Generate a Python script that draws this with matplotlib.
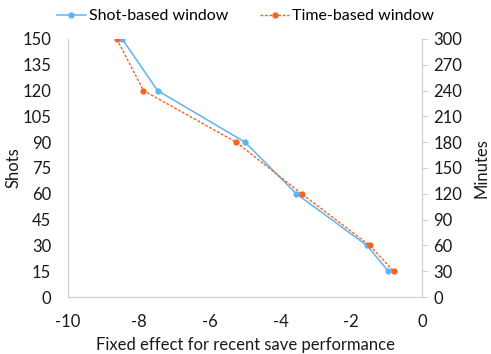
import matplotlib.pyplot as plt

shot_windows = [150, 120, 90, 60, 30, 15]
shot_effects = [-8.47, -7.47, -5.0, -3.55, -1.56, -0.95]
time_windows = [300, 240, 180, 120, 60, 30]
time_effects = [-8.62, -7.87, -5.25, -3.4, -1.48, -0.8]

plt.rcParams['font.family'] = ['Lato', 'DejaVu Sans']
plt.rcParams['font.size'] = 12
plt.rcParams['axes.unicode_minus'] = False

blue = '#5DB4F4'
orange = '#F8621E'
grey = '#D0D0D0'
txt = '#1a1a1a'

fig = plt.figure(figsize=(4.91, 3.54), dpi=100)
ax = fig.add_axes([0.1385, 0.161, 0.721, 0.729])
ax2 = ax.twinx()

l1, = ax.plot(shot_effects, shot_windows, color=blue, marker='o', markersize=3.5,
              linewidth=1.1, label='Shot-based window')
l2, = ax2.plot(time_effects, time_windows, color=orange, marker='o', markersize=3.5,
               linewidth=1.0, linestyle=(0, (2, 1.2)), label='Time-based window')

ax.set_xlim(-10, 0)
ax.set_ylim(0, 150)
ax2.set_ylim(0, 300)
ax.set_xticks(range(-10, 1, 2))
ax.set_yticks(range(0, 151, 15))
ax2.set_yticks(range(0, 301, 30))

for a in (ax, ax2):
    a.spines['top'].set_visible(False)
    for side in ('left', 'right', 'bottom'):
        a.spines[side].set_color(grey)
    a.tick_params(colors=txt, length=0)
ax.tick_params(axis='x', pad=12)
ax.tick_params(axis='y', pad=12)
ax2.tick_params(axis='y', length=4, color=grey, pad=4)

ax.set_xlabel('Fixed effect for recent save performance', color=txt, labelpad=5)
ax.set_ylabel('Shots', color=txt, labelpad=1)
ax2.set_ylabel('Minutes', color=txt, labelpad=8)

fig.legend(handles=[l1, l2], loc='upper center', bbox_to_anchor=(0.5, 1.015), ncol=2,
           frameon=False, fontsize=11.5, handlelength=1.8, columnspacing=2.0,
           handletextpad=0.2)

fig.savefig('out.png', dpi=100)
